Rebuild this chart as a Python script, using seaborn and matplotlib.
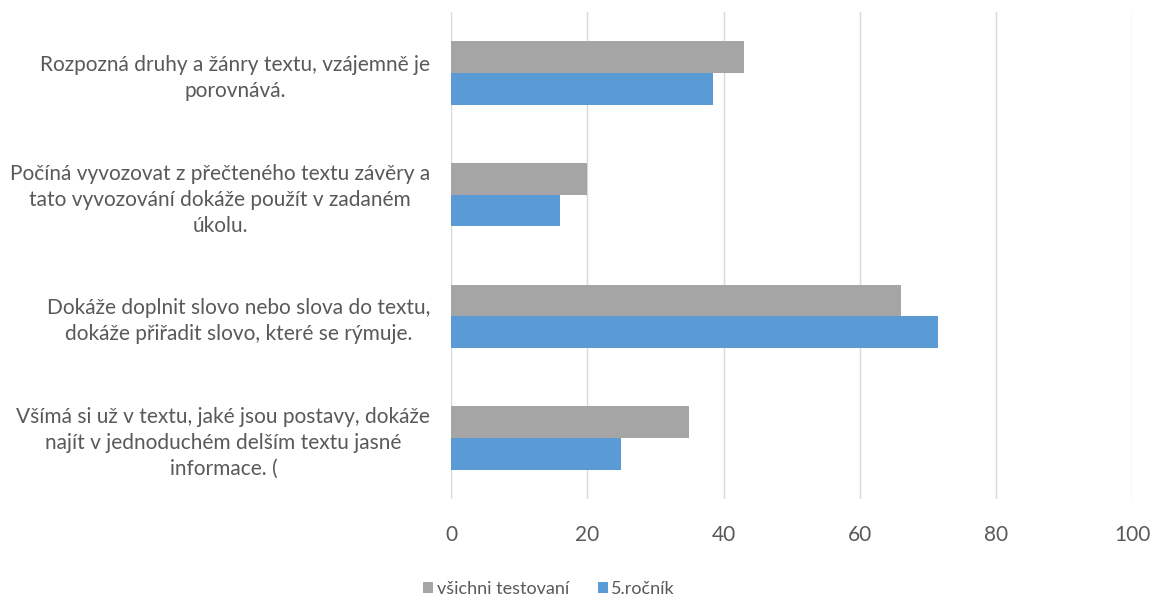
import matplotlib
matplotlib.use("Agg")
import matplotlib.pyplot as plt
import seaborn as sns
import pandas as pd
from matplotlib.patches import Patch

categories = [
    "Rozpozná druhy a žánry textu, vzájemně je\nporovnává.",
    "Počíná vyvozovat z přečteného textu závěry a\ntato vyvozování dokáže použít v zadaném\núkolu.",
    "Dokáže doplnit slovo nebo slova do textu,\ndokáže přiřadit slovo, které se rýmuje.",
    "Všímá si už v textu, jaké jsou postavy, dokáže\nnajít v jednoduchém delším textu jasné\ninformace. (",
]
series_names = ["všichni testovaní", "5.ročník"]
vsichni = [43, 20, 66, 35]
rocnik5 = [38.5, 16, 71.5, 25]
x_ticks = [0, 20, 40, 60, 80, 100]

colors = {"všichni testovaní": "#A5A5A5", "5.ročník": "#5B9BD5"}

rows = []
for c, a, b in zip(categories, vsichni, rocnik5):
    rows.append({"cat": c, "series": series_names[0], "val": a})
    rows.append({"cat": c, "series": series_names[1], "val": b})
df = pd.DataFrame(rows)

sns.set_theme(style="white")
plt.rcParams["font.family"] = ["Lato", "DejaVu Sans"]

FS = 15

fig = plt.figure(figsize=(11.51, 5.99), dpi=100)
ax = fig.add_axes([0.392, 0.167, 0.5915, 0.813])

sns.barplot(data=df, y="cat", x="val", hue="series", hue_order=series_names,
            palette=colors, orient="h", width=0.52, ax=ax, legend=False,
            saturation=1, edgecolor="none")

ax.set_xlim(0, 100)
ax.set_xticks(x_ticks)
ax.set_xticklabels([str(t) for t in x_ticks])
ax.set_xlabel("")
ax.set_ylabel("")
ax.set_ylim(3.5, -0.5)
ax.xaxis.grid(True, color="#D9D9D9", linewidth=1)
ax.set_axisbelow(True)
for s in ax.spines.values():
    s.set_visible(False)
ax.tick_params(axis="x", length=0, pad=19, labelsize=FS, labelcolor="#595959")
ax.tick_params(axis="y", length=0, pad=15, labelsize=FS, labelcolor="#595959")
for t in ax.get_yticklabels():
    t.set_multialignment("center")
    t.set_linespacing(1.38)

handles = [Patch(facecolor=colors[n], edgecolor="none", label=n) for n in series_names]
fig.legend(handles=handles, loc="center", bbox_to_anchor=(0.477, 0.017), ncol=2,
           frameon=False, fontsize=13, labelcolor="#595959", handlelength=0.55,
           handleheight=0.6, handletextpad=0.2, columnspacing=1.6)

fig.savefig("out.png", dpi=100, facecolor="white")
